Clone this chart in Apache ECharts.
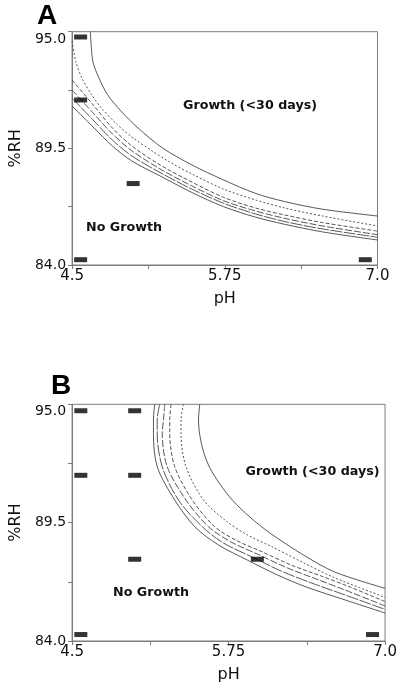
<!DOCTYPE html>
<html><head><meta charset="utf-8">
<script src="https://cdn.jsdelivr.net/npm/echarts@6/dist/echarts.min.js"></script>
<style>html,body{margin:0;padding:0;background:#fff}#c{width:400px;height:685px}</style>
</head><body><div id="c"></div>
<script>
// ---- axis ticks / labels ----
const xTicks = [4.5, 5.125, 5.75, 6.375, 7.0];
const xLabelValues = [4.5, 5.75, 7.0];
const xLabelTexts = ['4.5', '5.75', '7.0'];
const yTicks = [84.0, 86.75, 89.5, 92.25, 95.0];
const yLabelValues = [84.0, 89.5, 95.0];
const yLabelTexts = ['84.0', '89.5', '95.0'];

// ---- panel A curves [pH, %RH] ----
const a1 = [[4.65,95.0],[4.67,93.6],[4.72,92.82],[4.79,92.03],[4.9,91.26],[5.04,90.46],[5.24,89.52],[5.48,88.72],[5.74,88.01],[6.0,87.38],[6.24,86.99],[6.55,86.63],[7.0,86.31]];
const a2 = [[4.5,94.56],[4.53,93.6],[4.58,92.82],[4.66,92.03],[4.74,91.4],[4.87,90.62],[5.0,89.99],[5.16,89.36],[5.3,88.85],[5.48,88.29],[5.74,87.58],[6.0,87.07],[6.24,86.69],[6.55,86.31],[7.0,85.84]];
const a3 = [[4.5,92.72],[4.68,91.5],[4.83,90.46],[4.99,89.61],[5.22,88.72],[5.48,87.91],[5.74,87.19],[6.0,86.69],[6.24,86.36],[6.55,86.0],[7.0,85.6]];
const a4 = [[4.5,92.25],[4.68,91.12],[4.83,90.18],[4.99,89.38],[5.22,88.53],[5.48,87.73],[5.74,87.03],[6.0,86.55],[6.24,86.2],[6.55,85.84],[7.0,85.43]];
const a5 = [[4.5,91.87],[4.68,90.79],[4.83,89.89],[4.99,89.14],[5.22,88.36],[5.48,87.58],[5.74,86.91],[6.0,86.41],[6.24,86.05],[6.55,85.7],[7.0,85.31]];
const a6 = [[4.5,91.5],[4.68,90.46],[4.83,89.61],[4.99,88.9],[5.22,88.2],[5.48,87.42],[5.74,86.75],[6.0,86.26],[6.24,85.92],[6.55,85.56],[7.0,85.18]];

// ---- panel B curves [pH, %RH] ----
const b1 = [[5.52,95.0],[5.51,94.27],[5.52,93.58],[5.55,92.79],[5.6,92.05],[5.68,91.3],[5.78,90.55],[5.92,89.76],[6.08,89.02],[6.35,87.99],[6.6,87.2],[7.0,86.45]];
const b2 = [[5.39,95.0],[5.37,94.27],[5.37,93.65],[5.41,92.1],[5.55,90.55],[5.73,89.58],[5.9,88.93],[6.1,88.37],[6.35,87.63],[6.6,86.93],[7.0,86.03]];
const b3 = [[5.29,95.0],[5.28,94.27],[5.28,93.65],[5.32,92.1],[5.46,90.55],[5.64,89.31],[5.82,88.65],[6.02,88.14],[6.25,87.53],[6.49,87.02],[6.72,86.51],[7.0,85.83]];
const b4 = [[5.24,95.0],[5.23,94.27],[5.22,93.65],[5.26,92.1],[5.41,90.55],[5.59,89.31],[5.77,88.6],[5.98,88.04],[6.21,87.42],[6.45,86.88],[6.68,86.37],[7.0,85.63]];
const b5 = [[5.2,95.0],[5.18,94.27],[5.18,93.65],[5.22,92.1],[5.35,90.55],[5.54,89.31],[5.71,88.55],[5.94,87.9],[6.17,87.25],[6.41,86.7],[6.68,86.14],[7.0,85.47]];
const b6 = [[5.16,95.0],[5.15,94.27],[5.15,93.65],[5.18,92.1],[5.32,90.55],[5.48,89.31],[5.67,88.46],[5.9,87.76],[6.14,87.07],[6.37,86.51],[6.68,85.91],[7.0,85.3]];

// ---- observed points ----
const aPoints = [[4.57,94.75],[4.57,91.78],[5.0,87.84],[4.57,84.25],[6.9,84.25]];
const bPoints = [[4.57,94.7],[5.0,94.7],[4.57,91.7],[5.0,91.7],[5.0,87.8],[5.98,87.8],[4.57,84.3],[6.9,84.3]];

// ---- text ----
const panelLetters = ['A', 'B'];
const growthText = 'Growth (<30 days)';
const noGrowthText = 'No Growth';
const xName = 'pH';
const yName = '%RH';

// ---- styles ----
const frameColor = '#7c7c7c';
const curveColor = '#444';
const dashes = ['solid', [2, 2], [4, 2], [7, 2], [12, 1.5], 'solid'];

const chart = echarts.init(document.getElementById('c'), null, {renderer: 'canvas'});

function fmt(values, texts, topIdx) {
  return v => {
    for (let i = 0; i < values.length; i++) {
      if (Math.abs(v - values[i]) < 1e-6) return i === topIdx ? '{top|' + texts[i] + '}' : texts[i];
    }
    return '';
  };
}
function xAxis(gi) {
  return {
    type: 'value', gridIndex: gi, min: 4.5, max: 7.0,
    name: xName, nameLocation: 'middle', nameGap: 26,
    nameTextStyle: {fontFamily: 'DejaVu Sans', fontSize: 16, color: '#111'},
    axisLine: {show: true, onZero: false, lineStyle: {color: frameColor, width: 1}},
    axisTick: {show: true, length: 4, lineStyle: {color: frameColor}, customValues: xTicks},
    axisLabel: {color: '#111', fontFamily: 'DejaVu Sans', fontSize: 15, margin: 4,
      customValues: xLabelValues, formatter: fmt(xLabelValues, xLabelTexts, -1), showMinLabel: true, showMaxLabel: true},
    splitLine: {show: false}
  };
}
function yAxis(gi, gap) {
  return {
    type: 'value', gridIndex: gi, min: 84.0, max: 95.0,
    name: yName, nameLocation: 'middle', nameGap: gap, nameRotate: 90,
    nameTextStyle: {fontFamily: 'DejaVu Sans', fontSize: 16, color: '#111'},
    axisLine: {show: true, onZero: false, lineStyle: {color: frameColor, width: 1}},
    axisTick: {show: true, length: 4, lineStyle: {color: frameColor}, customValues: yTicks},
    axisLabel: {color: '#111', fontFamily: 'DejaVu Sans', fontSize: 14, margin: 6,
      customValues: yLabelValues, formatter: fmt(yLabelValues, yLabelTexts, 2), showMinLabel: true, showMaxLabel: true,
      rich: {top: {fontFamily: 'DejaVu Sans', fontSize: 14, color: '#111', padding: [15, 0, 0, 0]}}},
    splitLine: {show: false}
  };
}
function curve(data, i, gi) {
  return {
    type: 'line', xAxisIndex: gi, yAxisIndex: gi, data: data, smooth: 0.3,
    showSymbol: false, symbol: 'none', silent: true, z: 2,
    lineStyle: {color: curveColor, width: 0.9, type: dashes[i]}
  };
}
function points(data, gi) {
  return {
    type: 'scatter', xAxisIndex: gi, yAxisIndex: gi, data: data,
    symbol: 'rect', symbolSize: [13, 5], itemStyle: {color: '#000'}, z: 5, silent: true
  };
}

const boldText = {fontFamily: 'DejaVu Sans', fontWeight: 'bold', fontSize: 12.7, fill: '#111'};
chart.setOption({
  animation: false,
  backgroundColor: '#fff',
  grid: [
    {left: 57.5, top: 31.7, width: 320, height: 233.3, show: true, borderColor: frameColor, borderWidth: 1, backgroundColor: 'transparent', containLabel: false},
    {left: 70.7, top: 404.3, width: 320, height: 236.7, show: true, borderColor: frameColor, borderWidth: 1, backgroundColor: 'transparent', containLabel: false}
  ],
  xAxis: [xAxis(0), xAxis(1)],
  yAxis: [yAxis(0, 41), yAxis(1, 42)],
  series: [
    curve(a1, 0, 0), curve(a2, 1, 0), curve(a3, 2, 0), curve(a4, 3, 0), curve(a5, 4, 0), curve(a6, 5, 0),
    curve(b1, 0, 1), curve(b2, 1, 1), curve(b3, 2, 1), curve(b4, 3, 1), curve(b5, 4, 1), curve(b6, 5, 1),
    points(aPoints, 0), points(bPoints, 1)
  ],
  graphic: [
    {type: 'text', left: 37, top: 2, style: {text: panelLetters[0], fontFamily: 'Liberation Sans', fontWeight: 'bold', fontSize: 28, fill: '#000'}},
    {type: 'text', left: 51, top: 372, style: {text: panelLetters[1], fontFamily: 'Liberation Sans', fontWeight: 'bold', fontSize: 28, fill: '#000'}},
    {type: 'text', x: 250, y: 106, style: Object.assign({text: growthText, align: 'center', verticalAlign: 'middle'}, boldText)},
    {type: 'text', x: 124, y: 228, style: Object.assign({text: noGrowthText, align: 'center', verticalAlign: 'middle'}, boldText)},
    {type: 'text', x: 312.5, y: 472, style: Object.assign({text: growthText, align: 'center', verticalAlign: 'middle'}, boldText)},
    {type: 'text', x: 151, y: 592.5, style: Object.assign({text: noGrowthText, align: 'center', verticalAlign: 'middle'}, boldText)}
  ]
});
</script>
</body></html>
